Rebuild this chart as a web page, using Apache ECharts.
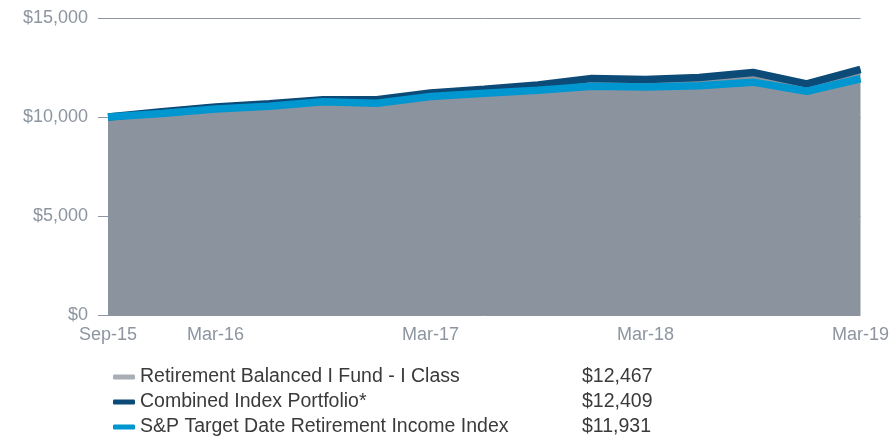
<!DOCTYPE html>
<html>
<head>
<meta charset="utf-8">
<script src="https://cdn.jsdelivr.net/npm/echarts@6/dist/echarts.min.js"></script>
<style>
  html, body { margin: 0; padding: 0; background: #fff; }
  #main { width: 892px; height: 436px; }
</style>
</head>
<body>
<div id="main"></div>
<script>
var quarters = ['Sep-15', 'Dec-15', 'Mar-16', 'Jun-16', 'Sep-16', 'Dec-16', 'Mar-17', 'Jun-17',
  'Sep-17', 'Dec-17', 'Mar-18', 'Jun-18', 'Sep-18', 'Dec-18', 'Mar-19'];
var shownLabels = ['Sep-15', 'Mar-16', 'Mar-17', 'Mar-18', 'Mar-19'];

var fundName = 'Retirement Balanced I Fund - I Class';
var combinedName = 'Combined Index Portfolio*';
var spName = 'S&P Target Date Retirement Income Index';

var fundValues = [10000, 10230, 10460, 10620, 10830, 10820, 11170, 11360, 11590, 11930, 11860, 11950, 12220, 11600, 12467];
var combinedValues = [10000, 10260, 10500, 10670, 10870, 10870, 11210, 11400, 11620, 11950, 11900, 11990, 12250, 11670, 12409];
var spValues = [10000, 10180, 10400, 10540, 10770, 10690, 11040, 11200, 11350, 11550, 11520, 11580, 11760, 11300, 11931];

var endValues = {};
endValues[fundName] = '$12,467';
endValues[combinedName] = '$12,409';
endValues[spName] = '$11,931';

var myChart = echarts.init(document.getElementById('main'));

var money = function(v) {
  return '$' + v.toLocaleString('en-US');
};

var option = {
  animation: false,
  textStyle: { fontFamily: 'Liberation Sans, Arial, sans-serif' },
  grid: { left: 108, right: 30, top: 18, bottom: 121 },
  legend: {
    orient: 'vertical',
    left: 108,
    top: 362,
    height: 120,
    itemWidth: 22,
    itemHeight: 5,
    itemGap: 5,
    icon: 'roundRect',
    data: [
      { name: fundName, itemStyle: { color: '#a9aeb6' } },
      { name: combinedName },
      { name: spName }
    ],
    formatter: function(name) {
      return '{n|' + name + '}{v|' + endValues[name] + '}';
    },
    textStyle: {
      rich: {
        n: { width: 442, fontSize: 19.5, color: '#3a3a3a', lineHeight: 20 },
        v: { fontSize: 19.5, color: '#3a3a3a', lineHeight: 20 }
      }
    }
  },
  xAxis: {
    type: 'category',
    data: quarters,
    boundaryGap: false,
    axisLine: { show: false },
    axisTick: { show: false },
    axisLabel: {
      interval: function(idx, val) { return shownLabels.indexOf(val) >= 0; },
      color: '#8d95a0',
      fontSize: 18,
      margin: 11
    }
  },
  yAxis: {
    type: 'value',
    min: 0,
    max: 15000,
    interval: 5000,
    axisLine: { show: false },
    axisTick: { show: true, length: 10, lineStyle: { color: '#8d95a0' } },
    axisLabel: {
      formatter: money,
      color: '#8d95a0',
      fontSize: 18,
      margin: 20
    },
    splitLine: { show: true, lineStyle: { color: '#8d95a0', width: 1 } }
  },
  series: [
    {
      name: fundName,
      type: 'line',
      data: fundValues,
      symbol: 'none',
      color: '#8b949e',
      lineStyle: { width: 0 },
      areaStyle: { color: '#8b949e', opacity: 1 },
      z: 2
    },
    {
      name: combinedName,
      type: 'line',
      data: combinedValues,
      symbol: 'none',
      color: '#0c4a78',
      lineStyle: { width: 7.5, color: '#0c4a78' },
      z: 3
    },
    {
      name: spName,
      type: 'line',
      data: spValues,
      symbol: 'none',
      color: '#0096d0',
      lineStyle: { width: 7.5, color: '#0096d0' },
      z: 4
    }
  ]
};
myChart.setOption(option);
</script>
</body>
</html>
